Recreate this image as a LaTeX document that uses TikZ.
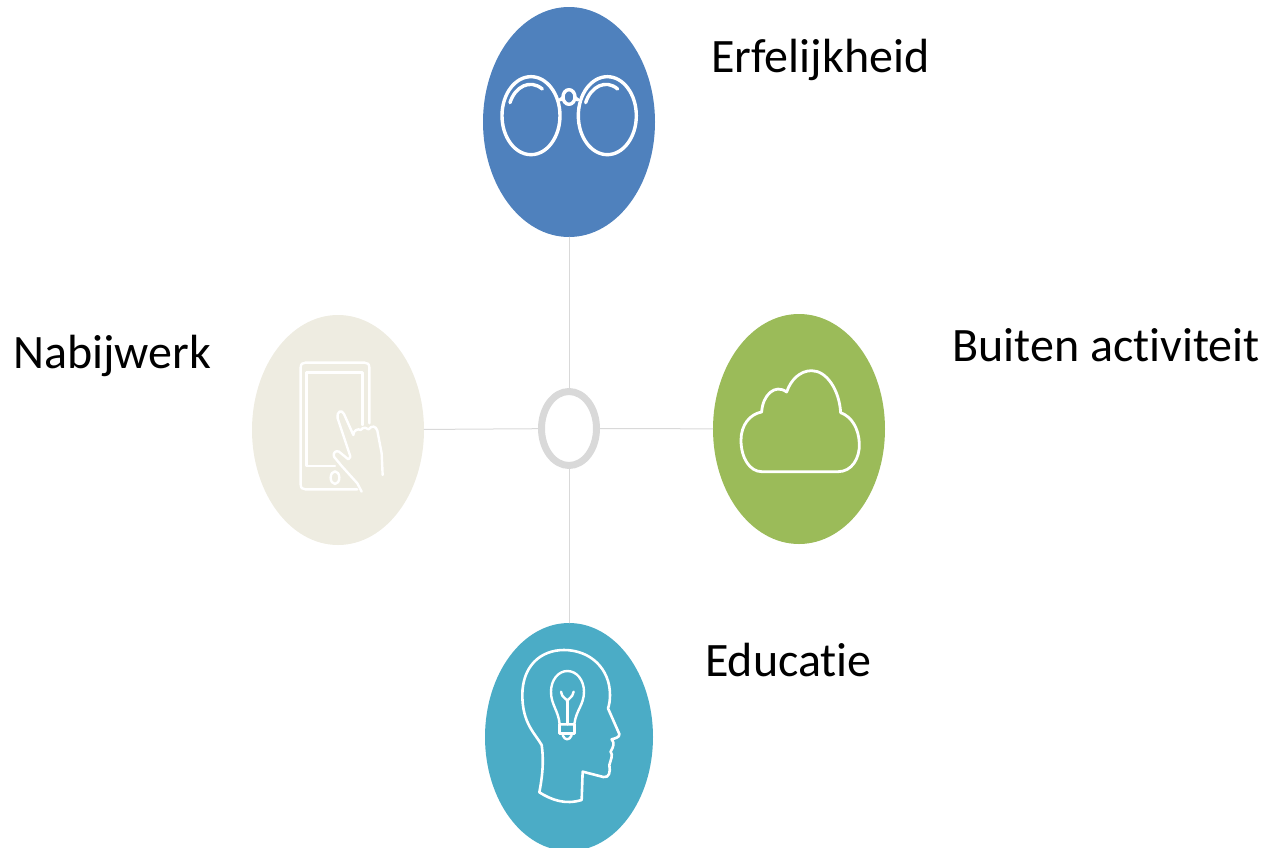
\documentclass[tikz,border=0pt]{standalone}
\usepackage{fontspec}
\setmainfont[Ligatures=NoCommon]{Carlito}
\usetikzlibrary{shapes.geometric}
\definecolor{blauw}{HTML}{4F81BD}
\definecolor{groen}{HTML}{9BBB59}
\definecolor{teal2}{HTML}{4BACC6}
\definecolor{beige}{HTML}{EEECE1}
\definecolor{grijs}{HTML}{D9D9D9}
\begin{document}
\begin{tikzpicture}[x=1pt, y=-1pt, line cap=round, line join=round,
    main/.style = {shape=ellipse, inner sep=0, minimum width=172pt, minimum height=230pt},
    hub/.style = {shape=ellipse, inner sep=0, draw=grijs, line width=7pt, minimum width=55pt, minimum height=74pt},
    spoke/.style = {draw=grijs, line width=1pt},
    icon/.style = {draw=white, line width=3.4pt},
    thin icon/.style = {draw=white, line width=2.4pt},
    label/.style = {anchor=base west, inner sep=0, font=\fontsize{48}{54}\selectfont}]
        \useasboundingbox (0,0) rectangle (1270,847);

        \node[hub] (0) at (569,428.5) {};
        \node[main, fill=blauw] (1) at (569,122) {};
        \node[main, fill=groen] (2) at (799,429) {};
        \node[main, fill=teal2, minimum width=168pt, minimum height=228pt] (3) at (569,737) {};
        \node[main, fill=beige] (4) at (338,430) {};

        \node[label] (5) at (711,72) {Erfelijkheid};
        \node[label] (6) at (952,361) {Buiten activiteit};
        \node[label] (7) at (705,676) {Educatie};
        \node[label] (8) at (13,368) {Nabijwerk};

        \draw[spoke] (0) -- (1);
        \draw[spoke] (0) -- (2);
        \draw[spoke] (0) -- (3);
        \draw[spoke] (0) -- (4);

        % glasses
        \begin{scope}[shift={(480,50)}, x=.3333pt, y=-.3333pt]
            \draw[icon] (153,197) ellipse [x radius=87, y radius=117];
            \draw[icon] (382,197) ellipse [x radius=87, y radius=117];
            \draw[icon] (267,141) ellipse [x radius=18, y radius=22];
            \draw[icon] (240,150) -- (249,143);
            \draw[icon] (294,150) -- (285,143);
            \draw[icon] (90,158) .. controls (105,110) and (150,86) .. (187,117);
            \draw[icon] (317,158) .. controls (332,110) and (377,86) .. (413,117);
        \end{scope}

        % cloud
        \begin{scope}[shift={(720,350)}, x=.3333pt, y=-.3333pt]
            \draw[icon, line width=2.8pt] (125,365) -- (355,365)
                .. controls (395,365) and (420,325) .. (418,280)
                .. controls (416,235) and (395,200) .. (362,188)
                .. controls (358,120) and (320,62) .. (275,62)
                .. controls (240,62) and (212,90) .. (200,126)
                .. controls (165,100) and (128,135) .. (125,186)
                .. controls (90,192) and (63,225) .. (63,270)
                .. controls (63,325) and (90,365) .. (125,365) -- cycle;
        \end{scope}

        % tablet and hand
        \begin{scope}[shift={(270,340)}, x=.3333pt, y=-.3333pt]
            \draw[thin icon] (298,250) -- (298,82) .. controls (298,72) and (292,68) .. (284,68)
                -- (106,68) .. controls (98,68) and (92,72) .. (92,82) -- (92,434)
                .. controls (92,444) and (98,448) .. (106,448) -- (262,448);
            \draw[thin icon] (278,255) -- (278,97) -- (110,97) -- (110,378) -- (195,378);
            \draw[thin icon] (195,413) ellipse [x radius=13, y radius=19];
            \draw[thin icon] (275,455) -- (262,430) -- (215,378) -- (192,350)
                .. controls (188,338) and (198,330) .. (207,335) -- (235,358)
                .. controls (242,355) and (242,350) .. (238,340) -- (203,235)
                .. controls (200,212) and (215,208) .. (222,222) -- (250,285)
                .. controls (250,270) and (265,265) .. (272,270)
                .. controls (280,260) and (290,262) .. (296,268)
                .. controls (305,255) and (318,258) .. (322,272)
                -- (335,340) -- (338,405);
        \end{scope}

        % head and bulb
        \begin{scope}[shift={(490,630)}, x=.3333pt, y=-.3333pt]
            \draw[icon, line width=2.6pt] (148,487) .. controls (155,450) and (163,400) .. (155,345)
                .. controls (135,310) and (97,280) .. (97,195)
                .. controls (97,110) and (150,60) .. (222,60)
                .. controls (300,60) and (360,115) .. (360,195)
                .. controls (360,210) and (358,225) .. (354,235)
                -- (388,312) .. controls (390,322) and (375,325) .. (365,328)
                .. controls (375,340) and (370,350) .. (362,365)
                .. controls (370,375) and (362,390) .. (358,405)
                .. controls (362,425) and (358,445) .. (340,441)
                -- (278,425) -- (275,510)
                .. controls (225,525) and (185,510) .. (148,487) -- cycle;
            \draw[thin icon] (209,283) .. controls (205,240) and (183,225) .. (183,185)
                .. controls (183,150) and (205,123) .. (232,123)
                .. controls (260,123) and (282,150) .. (282,185)
                .. controls (282,225) and (258,240) .. (253,283) -- cycle;
            \draw[thin icon] (209,283) -- (209,310) -- (253,310) -- (253,283);
            \draw[thin icon] (218,316) .. controls (225,332) and (238,332) .. (245,316);
            \draw[thin icon] (213,185) .. controls (215,205) and (232,205) .. (232,215)
                .. controls (232,205) and (248,205) .. (251,185);
            \draw[thin icon] (232,215) -- (232,283);
        \end{scope}

    \end{tikzpicture}
\end{document}
